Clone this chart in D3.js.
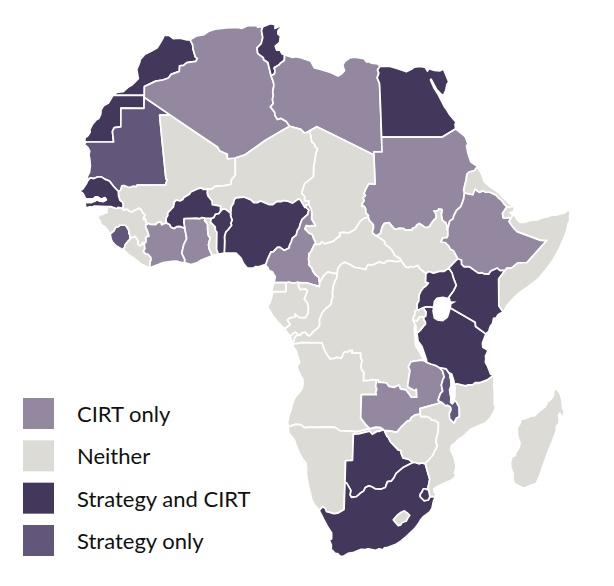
<!DOCTYPE html>
<html>
<head>
<meta charset="utf-8">
<script src="https://cdn.jsdelivr.net/npm/d3@7"></script>
<style>
  body { margin: 0; background: #fff; }
  text { font-family: Lato, sans-serif; }
</style>
</head>
<body>
<div id="chart"></div>
<script>
const categories = ["CIRT only", "Neither", "Strategy and CIRT", "Strategy only"];
const categoryColors = ["#93889f", "#dddbd5", "#43385b", "#62577a"];

// country outlines, [lon, lat]
const morocco = [[-5.19,35.76],[-4.59,35.33],[-3.64,35.4],[-2.6,35.18],[-2.17,35.17],[-1.79,34.53],[-1.73,33.92],[-1.39,32.86],[-1.12,32.65],[-1.31,32.26],[-2.62,32.09],[-3.07,31.72],[-3.65,31.64],[-3.69,30.9],[-4.86,30.5],[-5.24,30],[-6.06,29.73],[-7.06,29.58],[-8.67,28.84],[-8.67,27.66],[-13.12,27.66],[-12.62,28.04],[-11.69,28.15],[-10.9,28.83],[-10.4,29.1],[-9.56,29.93],[-9.81,31.18],[-9.43,32.04],[-9.3,32.56],[-8.66,33.24],[-7.65,33.7],[-6.91,34.11],[-6.24,35.15],[-5.93,35.76],[-5.19,35.76]];
const westernSahara = [[-8.67,27.66],[-8.68,27.4],[-8.69,25.88],[-11.97,25.93],[-11.94,23.37],[-12.87,23.28],[-13.12,22.77],[-12.93,21.33],[-16.85,21.33],[-17.06,21],[-17.02,21.42],[-16.97,21.89],[-16.59,22.16],[-16.26,22.68],[-16.33,23.02],[-15.98,23.72],[-15.43,24.36],[-15.09,24.52],[-14.82,25.1],[-14.8,25.64],[-14.44,26.25],[-13.77,26.62],[-13.14,27.64],[-13.12,27.66],[-8.67,27.66]];
const mauritania = [[-12.17,14.62],[-12.83,15.3],[-13.44,16.04],[-14.1,16.3],[-14.58,16.6],[-15.14,16.59],[-15.62,16.37],[-16.12,16.46],[-16.46,16.14],[-16.55,16.67],[-16.27,17.17],[-16.15,18.11],[-16.26,19.1],[-16.38,19.59],[-16.28,20.09],[-16.54,20.57],[-17.06,21],[-16.85,21.33],[-12.93,21.33],[-13.12,22.77],[-12.87,23.28],[-11.94,23.37],[-11.97,25.93],[-8.69,25.88],[-8.68,27.4],[-4.92,24.97],[-6.45,24.96],[-5.97,20.64],[-5.49,16.33],[-5.32,16.2],[-5.54,15.5],[-9.55,15.49],[-9.7,15.26],[-10.09,15.33],[-10.65,15.13],[-11.35,15.41],[-11.67,15.39],[-11.83,14.8],[-12.17,14.62]];
const mali = [[-12.17,14.62],[-11.83,14.8],[-11.67,15.39],[-11.35,15.41],[-10.65,15.13],[-10.09,15.33],[-9.7,15.26],[-9.55,15.49],[-5.54,15.5],[-5.32,16.2],[-5.49,16.33],[-5.97,20.64],[-6.45,24.96],[-4.92,24.97],[-1.55,22.79],[1.82,20.61],[2.06,20.14],[2.68,19.86],[3.15,19.69],[3.16,19.06],[4.27,19.16],[4.27,16.85],[3.72,16.18],[3.64,15.57],[2.75,15.41],[1.39,15.32],[1.02,14.97],[0.37,14.93],[-0.27,14.92],[-0.52,15.12],[-1.07,14.97],[-2,14.56],[-2.19,14.25],[-2.97,13.8],[-3.1,13.54],[-3.52,13.34],[-4.01,13.47],[-4.28,13.23],[-4.43,12.54],[-5.22,11.71],[-5.2,11.38],[-5.47,10.95],[-5.4,10.37],[-5.82,10.22],[-6.05,10.1],[-6.21,10.52],[-6.49,10.41],[-6.67,10.43],[-6.85,10.14],[-7.62,10.15],[-7.9,10.3],[-8.03,10.21],[-8.34,10.49],[-8.28,10.79],[-8.41,10.91],[-8.62,10.81],[-8.58,11.14],[-8.38,11.39],[-8.79,11.81],[-8.91,12.09],[-9.13,12.31],[-9.33,12.33],[-9.57,12.19],[-9.89,12.06],[-10.17,11.84],[-10.59,11.92],[-10.87,12.18],[-11.04,12.21],[-11.3,12.08],[-11.46,12.08],[-11.51,12.44],[-11.47,12.75],[-11.55,13.14],[-11.93,13.42],[-12.12,13.99],[-12.17,14.62]];
const algeria = [[12,23.47],[8.57,21.57],[5.68,19.6],[4.27,19.16],[3.16,19.06],[3.15,19.69],[2.68,19.86],[2.06,20.14],[1.82,20.61],[-1.55,22.79],[-4.92,24.97],[-8.68,27.4],[-8.67,27.66],[-8.67,28.84],[-7.06,29.58],[-6.06,29.73],[-5.24,30],[-4.86,30.5],[-3.69,30.9],[-3.65,31.64],[-3.07,31.72],[-2.62,32.09],[-1.31,32.26],[-1.12,32.65],[-1.39,32.86],[-1.73,33.92],[-1.79,34.53],[-2.17,35.17],[-1.21,35.71],[-0.13,35.89],[0.5,36.3],[1.47,36.61],[3.16,36.78],[4.82,36.87],[5.32,36.72],[6.26,37.11],[7.33,37.12],[7.74,36.89],[8.42,36.95],[8.22,36.43],[8.38,35.48],[8.14,34.66],[7.52,34.1],[7.61,33.34],[8.43,32.75],[8.44,32.51],[9.06,32.1],[9.48,30.31],[9.81,29.42],[9.86,28.96],[9.68,28.14],[9.76,27.69],[9.63,27.14],[9.72,26.51],[9.32,26.09],[9.91,25.37],[9.95,24.94],[10.3,24.38],[10.77,24.56],[11.56,24.1],[12,23.47]];
const tunisia = [[9.48,30.31],[9.06,32.1],[8.44,32.51],[8.43,32.75],[7.61,33.34],[7.52,34.1],[8.14,34.66],[8.38,35.48],[8.22,36.43],[8.42,36.95],[9.51,37.35],[10.21,37.23],[10.18,36.72],[11.03,37.09],[11.1,36.9],[10.6,36.41],[10.59,35.95],[10.94,35.7],[10.81,34.83],[10.15,34.33],[10.34,33.79],[10.86,33.77],[11.11,33.29],[11.49,33.14],[11.43,32.37],[10.94,32.08],[10.64,31.76],[9.95,31.38],[10.06,30.96],[9.97,30.54],[9.48,30.31]];
const libya = [[14.85,22.86],[14.14,22.49],[13.58,23.04],[12,23.47],[11.56,24.1],[10.77,24.56],[10.3,24.38],[9.95,24.94],[9.91,25.37],[9.32,26.09],[9.72,26.51],[9.63,27.14],[9.76,27.69],[9.68,28.14],[9.86,28.96],[9.81,29.42],[9.48,30.31],[9.97,30.54],[10.06,30.96],[9.95,31.38],[10.64,31.76],[10.94,32.08],[11.43,32.37],[11.49,33.14],[12.66,32.79],[13.08,32.88],[13.92,32.71],[15.25,32.27],[15.71,31.38],[16.61,31.18],[18.02,30.76],[19.09,30.27],[19.57,30.53],[20.05,30.99],[19.82,31.75],[20.13,32.24],[20.85,32.71],[21.54,32.84],[22.9,32.64],[23.24,32.19],[23.61,32.19],[23.93,32.02],[24.92,31.9],[25.16,31.57],[24.8,31.09],[24.96,30.66],[24.7,30.04],[25,29.24],[25,25.68],[25,22],[25,20],[23.85,20],[23.84,19.58],[19.85,21.5],[15.86,23.41],[14.85,22.86]];
const egypt = [[35.53,23.1],[33.6,22],[32.9,22],[29.02,22],[25,22],[25,25.68],[25,29.24],[24.7,30.04],[24.96,30.66],[24.8,31.09],[25.16,31.57],[26.5,31.59],[27.46,31.32],[28.45,31.03],[28.91,30.87],[29.68,31.19],[30.1,31.47],[30.98,31.56],[31.69,31.43],[31.96,30.93],[32.19,31.26],[32.99,31.02],[33.77,30.97],[34.27,31.22],[34.92,29.5],[34.64,29.1],[34.43,28.34],[34.15,27.82],[33.92,27.65],[33.59,27.97],[33.14,28.42],[32.42,29.85],[32.32,29.76],[32.73,28.71],[33.35,27.7],[34.1,26.14],[34.47,25.6],[34.8,25.03],[35.69,23.93],[35.49,23.75],[35.53,23.1]];
const sudan = [[33.96,9.46],[33.82,9.48],[33.84,9.98],[33.72,10.33],[33.21,10.72],[33.09,11.44],[33.21,12.18],[32.74,12.25],[32.67,12.02],[32.07,11.97],[32.31,11.68],[32.4,11.08],[31.85,10.53],[31.35,9.81],[30.84,9.71],[30,10.29],[29.62,10.08],[29.52,9.79],[29,9.6],[28.97,9.4],[27.97,9.4],[27.83,9.6],[27.11,9.64],[26.75,9.47],[26.48,9.55],[25.96,10.14],[25.79,10.41],[25.07,10.27],[24.79,9.81],[24.54,8.92],[24.19,8.73],[23.89,8.62],[23.81,8.67],[23.46,8.95],[23.39,9.27],[23.56,9.68],[23.55,10.09],[22.98,10.71],[22.86,11.14],[22.88,11.38],[22.51,11.68],[22.5,12.26],[22.29,12.65],[21.94,12.59],[22.04,12.96],[22.3,13.37],[22.18,13.79],[22.51,14.09],[22.3,14.33],[22.57,14.94],[23.02,15.68],[23.89,15.61],[23.84,19.58],[23.85,20],[25,20],[25,22],[29.02,22],[32.9,22],[33.6,22],[35.53,23.1],[36.69,22.2],[36.87,22],[37.19,21.02],[36.97,20.84],[37.11,19.81],[37.48,18.61],[37.86,18.37],[38.41,18],[37.9,17.43],[37.17,17.26],[36.85,16.96],[36.75,16.29],[36.32,14.82],[36.43,14.42],[36.27,13.56],[35.86,12.58],[35.26,12.08],[34.83,11.32],[34.73,10.91],[34.26,10.63],[33.96,9.58],[33.96,9.46]];
const southSudan = [[33.96,9.46],[33.97,8.68],[33.83,8.38],[33.29,8.35],[32.95,7.78],[33.57,7.71],[34.08,7.23],[34.25,6.83],[34.71,6.59],[35.3,5.51],[34.62,4.85],[34.01,4.25],[33.39,3.79],[32.69,3.79],[31.88,3.56],[31.25,3.78],[30.83,3.51],[29.95,4.17],[29.72,4.6],[29.16,4.39],[28.7,4.46],[28.43,4.29],[27.98,4.41],[27.37,5.23],[27.21,5.55],[26.47,5.95],[26.21,6.55],[25.8,6.98],[25.12,7.5],[25.11,7.83],[24.57,8.23],[23.89,8.62],[24.19,8.73],[24.54,8.92],[24.79,9.81],[25.07,10.27],[25.79,10.41],[25.96,10.14],[26.48,9.55],[26.75,9.47],[27.11,9.64],[27.83,9.6],[27.97,9.4],[28.97,9.4],[29,9.6],[29.52,9.79],[29.62,10.08],[30,10.29],[30.84,9.71],[31.35,9.81],[31.85,10.53],[32.4,11.08],[32.31,11.68],[32.07,11.97],[32.67,12.02],[32.74,12.25],[33.21,12.18],[33.09,11.44],[33.21,10.72],[33.72,10.33],[33.84,9.98],[33.82,9.48],[33.96,9.46]];
const chad = [[14.5,12.86],[14.6,13.33],[13.95,13.35],[13.96,14],[13.54,14.37],[13.97,15.68],[15.25,16.63],[15.3,17.93],[15.69,19.96],[15.9,20.39],[15.49,20.73],[15.47,21.05],[15.1,21.31],[14.85,22.86],[15.86,23.41],[19.85,21.5],[23.84,19.58],[23.89,15.61],[23.02,15.68],[22.57,14.94],[22.3,14.33],[22.51,14.09],[22.18,13.79],[22.3,13.37],[22.04,12.96],[21.94,12.59],[22.29,12.65],[22.5,12.26],[22.51,11.68],[22.88,11.38],[22.86,11.14],[22.23,10.97],[21.72,10.57],[21,9.48],[20.06,9.01],[19.09,9.07],[18.81,8.98],[18.91,8.63],[18.39,8.28],[17.96,7.89],[16.71,7.51],[16.46,7.73],[16.29,7.75],[16.11,7.5],[15.28,7.42],[15.44,7.69],[15.12,8.38],[14.98,8.8],[14.54,8.97],[13.95,9.55],[14.17,10.02],[14.63,9.92],[14.91,9.99],[15.47,9.98],[14.92,10.89],[14.96,11.56],[14.89,12.22],[14.5,12.86]];
const niger = [[2.15,11.94],[2.18,12.63],[1.02,12.85],[0.99,13.34],[0.43,13.99],[0.3,14.44],[0.37,14.93],[1.02,14.97],[1.39,15.32],[2.75,15.41],[3.64,15.57],[3.72,16.18],[4.27,16.85],[4.27,19.16],[5.68,19.6],[8.57,21.57],[12,23.47],[13.58,23.04],[14.14,22.49],[14.85,22.86],[15.1,21.31],[15.47,21.05],[15.49,20.73],[15.9,20.39],[15.69,19.96],[15.3,17.93],[15.25,16.63],[13.97,15.68],[13.54,14.37],[13.96,14],[13.95,13.35],[14.6,13.33],[14.5,12.86],[14.21,12.8],[14.18,12.48],[14,12.46],[13.32,13.56],[13.08,13.6],[12.3,13.04],[11.53,13.33],[10.99,13.39],[10.7,13.25],[10.11,13.28],[9.52,12.85],[9.01,12.83],[7.8,13.34],[7.33,13.1],[6.82,13.12],[6.45,13.49],[5.44,13.87],[4.37,13.75],[4.11,13.53],[3.97,12.96],[3.68,12.55],[3.61,11.66],[2.85,12.24],[2.49,12.23],[2.15,11.94]];
const nigeria = [[8.5,4.77],[7.46,4.41],[7.08,4.46],[6.7,4.24],[5.9,4.26],[5.36,4.89],[5.03,5.61],[4.33,6.27],[3.57,6.26],[2.69,6.26],[2.75,7.87],[2.72,8.51],[2.91,9.14],[3.22,9.44],[3.71,10.06],[3.6,10.33],[3.8,10.73],[3.57,11.33],[3.61,11.66],[3.68,12.55],[3.97,12.96],[4.11,13.53],[4.37,13.75],[5.44,13.87],[6.45,13.49],[6.82,13.12],[7.33,13.1],[7.8,13.34],[9.01,12.83],[9.52,12.85],[10.11,13.28],[10.7,13.25],[10.99,13.39],[11.53,13.33],[12.3,13.04],[13.08,13.6],[13.32,13.56],[14,12.46],[14.18,12.48],[14.58,12.09],[14.47,11.9],[14.42,11.57],[13.57,10.8],[13.31,10.16],[13.17,9.64],[12.96,9.42],[12.75,8.72],[12.22,8.31],[12.06,7.8],[11.84,7.4],[11.75,6.98],[11.06,6.64],[10.5,7.06],[10.12,7.04],[9.52,6.45],[9.23,6.44],[8.76,5.48],[8.5,4.77]];
const cameroon = [[14.5,12.86],[14.89,12.22],[14.96,11.56],[14.92,10.89],[15.47,9.98],[14.91,9.99],[14.63,9.92],[14.17,10.02],[13.95,9.55],[14.54,8.97],[14.98,8.8],[15.12,8.38],[15.44,7.69],[15.28,7.42],[14.78,6.41],[14.54,6.23],[14.46,5.45],[14.56,5.03],[14.48,4.73],[14.95,4.21],[15.04,3.85],[15.41,3.34],[15.86,3.01],[15.91,2.56],[16.01,2.27],[15.94,1.73],[15.15,1.96],[14.34,2.23],[13.08,2.27],[12.95,2.32],[12.36,2.19],[11.75,2.33],[11.28,2.26],[9.65,2.28],[9.8,3.07],[9.4,3.73],[8.95,3.9],[8.74,4.35],[8.49,4.5],[8.5,4.77],[8.76,5.48],[9.23,6.44],[9.52,6.45],[10.12,7.04],[10.5,7.06],[11.06,6.64],[11.75,6.98],[11.84,7.4],[12.06,7.8],[12.22,8.31],[12.75,8.72],[12.96,9.42],[13.17,9.64],[13.31,10.16],[13.57,10.8],[14.42,11.57],[14.47,11.9],[14.58,12.09],[14.18,12.48],[14.21,12.8],[14.5,12.86]];
const centralAfrica = [[27.37,5.23],[27.04,5.13],[26.4,5.15],[25.65,5.26],[25.28,5.17],[25.13,4.93],[24.81,4.9],[24.41,5.11],[23.3,4.61],[22.84,4.71],[22.7,4.63],[22.41,4.03],[21.66,4.22],[20.93,4.32],[20.29,4.69],[19.47,5.03],[18.93,4.71],[18.54,4.2],[18.45,3.5],[17.81,3.56],[17.13,3.73],[16.54,3.2],[16.01,2.27],[15.91,2.56],[15.86,3.01],[15.41,3.34],[15.04,3.85],[14.95,4.21],[14.48,4.73],[14.56,5.03],[14.46,5.45],[14.54,6.23],[14.78,6.41],[15.28,7.42],[16.11,7.5],[16.29,7.75],[16.46,7.73],[16.71,7.51],[17.96,7.89],[18.39,8.28],[18.91,8.63],[18.81,8.98],[19.09,9.07],[20.06,9.01],[21,9.48],[21.72,10.57],[22.23,10.97],[22.86,11.14],[22.98,10.71],[23.55,10.09],[23.56,9.68],[23.39,9.27],[23.46,8.95],[23.81,8.67],[23.89,8.62],[24.57,8.23],[25.11,7.83],[25.12,7.5],[25.8,6.98],[26.21,6.55],[26.47,5.95],[27.21,5.55],[27.37,5.23]];
const congo = [[13,-4.78],[12.62,-4.44],[12.32,-4.61],[11.91,-5.04],[11.09,-3.98],[11.86,-3.43],[11.48,-2.77],[11.82,-2.51],[12.5,-2.39],[12.58,-1.95],[13.11,-2.43],[13.99,-2.47],[14.3,-2],[14.43,-1.33],[14.32,-0.55],[13.84,0.04],[14.28,1.2],[14.03,1.4],[13.28,1.31],[13,1.83],[13.08,2.27],[14.34,2.23],[15.15,1.96],[15.94,1.73],[16.01,2.27],[16.54,3.2],[17.13,3.73],[17.81,3.56],[18.45,3.5],[18.39,2.9],[18.09,2.37],[17.9,1.74],[17.77,0.86],[17.83,0.29],[17.66,-0.06],[17.64,-0.42],[17.52,-0.74],[16.87,-1.23],[16.41,-1.74],[15.97,-2.71],[16.01,-3.54],[15.75,-3.86],[15.17,-4.34],[14.58,-4.97],[14.21,-4.79],[14.14,-4.51],[13.6,-4.5],[13.26,-4.88],[13,-4.78]];
const gabon = [[11.09,-3.98],[10.07,-2.97],[9.41,-2.14],[8.8,-1.11],[8.83,-0.78],[9.05,-0.46],[9.29,0.27],[9.49,1.01],[9.83,1.07],[11.29,1.06],[11.28,2.26],[11.75,2.33],[12.36,2.19],[12.95,2.32],[13.08,2.27],[13,1.83],[13.28,1.31],[14.03,1.4],[14.28,1.2],[13.84,0.04],[14.32,-0.55],[14.43,-1.33],[14.3,-2],[13.99,-2.47],[13.11,-2.43],[12.58,-1.95],[12.5,-2.39],[11.82,-2.51],[11.48,-2.77],[11.86,-3.43],[11.09,-3.98]];
const equatorialGuinea = [[9.49,1.01],[9.31,1.16],[9.65,2.28],[11.28,2.26],[11.29,1.06],[9.83,1.07],[9.49,1.01]];
const drCongo = [[30.83,3.51],[30.77,2.34],[31.17,2.2],[30.85,1.85],[30.47,1.58],[30.09,1.06],[29.88,0.6],[29.82,-0.21],[29.59,-0.59],[29.58,-1.34],[29.29,-1.62],[29.25,-2.22],[29.12,-2.29],[29.02,-2.84],[29.28,-3.29],[29.34,-4.5],[29.52,-5.42],[29.42,-5.94],[29.62,-6.52],[30.2,-7.08],[30.74,-8.34],[30.35,-8.24],[29,-8.41],[28.73,-8.53],[28.45,-9.16],[28.67,-9.61],[28.5,-10.79],[28.37,-11.79],[28.64,-11.97],[29.34,-12.36],[29.62,-12.18],[29.7,-13.26],[28.93,-13.25],[28.52,-12.7],[28.16,-12.27],[27.39,-12.13],[27.16,-11.61],[26.55,-11.92],[25.75,-11.78],[25.42,-11.33],[24.78,-11.24],[24.31,-11.26],[24.26,-10.95],[23.91,-10.93],[23.46,-10.87],[22.84,-11.02],[22.4,-10.99],[22.16,-11.08],[22.21,-9.89],[21.88,-9.52],[21.8,-8.91],[21.95,-8.31],[21.75,-7.92],[21.73,-7.29],[20.51,-7.3],[20.6,-6.94],[20.09,-6.94],[20.04,-7.12],[19.42,-7.16],[19.17,-7.74],[19.02,-7.99],[18.46,-7.85],[18.13,-7.99],[17.47,-8.07],[17.09,-7.55],[16.86,-7.22],[16.57,-6.62],[16.33,-5.88],[13.38,-5.86],[13.02,-5.98],[12.74,-5.97],[12.32,-6.1],[12.18,-5.79],[12.44,-5.68],[12.47,-5.25],[12.63,-4.99],[13,-4.78],[13.26,-4.88],[13.6,-4.5],[14.14,-4.51],[14.21,-4.79],[14.58,-4.97],[15.17,-4.34],[15.75,-3.86],[16.01,-3.54],[15.97,-2.71],[16.41,-1.74],[16.87,-1.23],[17.52,-0.74],[17.64,-0.42],[17.66,-0.06],[17.83,0.29],[17.77,0.86],[17.9,1.74],[18.09,2.37],[18.39,2.9],[18.45,3.5],[18.54,4.2],[18.93,4.71],[19.47,5.03],[20.29,4.69],[20.93,4.32],[21.66,4.22],[22.41,4.03],[22.7,4.63],[22.84,4.71],[23.3,4.61],[24.41,5.11],[24.81,4.9],[25.13,4.93],[25.28,5.17],[25.65,5.26],[26.4,5.15],[27.04,5.13],[27.37,5.23],[27.98,4.41],[28.43,4.29],[28.7,4.46],[29.16,4.39],[29.72,4.6],[29.95,4.17],[30.83,3.51]];
const angola = [[16.33,-5.88],[16.57,-6.62],[16.86,-7.22],[17.09,-7.55],[17.47,-8.07],[18.13,-7.99],[18.46,-7.85],[19.02,-7.99],[19.17,-7.74],[19.42,-7.16],[20.04,-7.12],[20.09,-6.94],[20.6,-6.94],[20.51,-7.3],[21.73,-7.29],[21.75,-7.92],[21.95,-8.31],[21.8,-8.91],[21.88,-9.52],[22.21,-9.89],[22.16,-11.08],[22.4,-10.99],[22.84,-11.02],[23.46,-10.87],[23.91,-10.93],[24.02,-11.24],[23.9,-11.72],[24.08,-12.19],[23.93,-12.57],[24.02,-12.91],[21.93,-12.9],[21.89,-16.08],[22.56,-16.9],[23.22,-17.52],[21.38,-17.93],[18.96,-17.79],[18.26,-17.31],[14.21,-17.35],[14.06,-17.42],[13.46,-16.97],[12.81,-16.94],[12.22,-17.11],[11.73,-17.3],[11.64,-16.67],[11.78,-15.79],[12.12,-14.88],[12.18,-14.45],[12.5,-13.55],[12.74,-13.14],[13.31,-12.48],[13.63,-12.04],[13.74,-11.3],[13.69,-10.73],[13.39,-10.37],[13.12,-9.77],[12.88,-9.17],[12.93,-8.96],[13.24,-8.56],[12.93,-7.6],[12.73,-6.93],[12.23,-6.29],[12.32,-6.1],[12.74,-5.97],[13.02,-5.98],[13.38,-5.86],[16.33,-5.88]];
const cabinda = [[12.44,-5.68],[12.18,-5.79],[11.91,-5.04],[12.32,-4.61],[12.62,-4.44],[13,-4.78],[12.63,-4.99],[12.47,-5.25],[12.44,-5.68]];
const namibia = [[16.34,-28.58],[15.6,-27.82],[15.21,-27.09],[14.99,-26.12],[14.74,-25.39],[14.41,-23.85],[14.39,-22.66],[14.26,-22.11],[13.87,-21.7],[13.35,-20.87],[12.83,-19.67],[12.61,-19.05],[11.79,-18.07],[11.73,-17.3],[12.22,-17.11],[12.81,-16.94],[13.46,-16.97],[14.06,-17.42],[14.21,-17.35],[18.26,-17.31],[18.96,-17.79],[21.38,-17.93],[23.22,-17.52],[24.03,-17.3],[24.68,-17.35],[25.08,-17.58],[25.08,-17.66],[24.52,-17.89],[24.22,-17.89],[23.58,-18.28],[23.2,-17.87],[21.66,-18.22],[20.91,-18.25],[20.88,-21.81],[19.9,-21.85],[19.9,-24.77],[19.89,-28.46],[19,-28.97],[18.46,-29.05],[17.84,-28.86],[17.39,-28.78],[17.22,-28.36],[16.82,-28.08],[16.34,-28.58]];
const botswana = [[25.65,-18.54],[25.85,-18.71],[26.16,-19.29],[27.3,-20.39],[27.72,-20.5],[27.73,-20.85],[28.02,-21.49],[28.79,-21.64],[29.43,-22.09],[28.02,-22.83],[27.12,-23.57],[26.79,-24.24],[26.49,-24.62],[25.94,-24.7],[25.77,-25.17],[25.66,-25.49],[25.03,-25.72],[24.21,-25.67],[23.73,-25.39],[23.31,-25.27],[22.82,-25.5],[22.58,-25.98],[22.11,-26.28],[21.61,-26.73],[20.89,-26.83],[20.67,-26.48],[20.76,-25.87],[20.17,-24.92],[19.9,-24.77],[19.9,-21.85],[20.88,-21.81],[20.91,-18.25],[21.66,-18.22],[23.2,-17.87],[23.58,-18.28],[24.22,-17.89],[24.52,-17.89],[25.08,-17.66],[25.26,-17.74],[25.65,-18.54]];
const southAfrica = [[31.52,-29.26],[31.33,-29.4],[30.9,-29.91],[30.62,-30.42],[30.06,-31.14],[28.93,-32.17],[28.22,-32.77],[27.46,-33.23],[26.42,-33.61],[25.91,-33.67],[25.78,-33.94],[25.17,-33.8],[24.68,-33.99],[23.59,-33.79],[22.99,-33.92],[22.57,-33.86],[21.54,-34.26],[20.69,-34.42],[20.07,-34.8],[19.62,-34.82],[19.19,-34.46],[18.86,-34.44],[18.42,-34],[18.38,-34.14],[18.24,-33.87],[18.25,-33.28],[17.93,-32.61],[18.25,-32.43],[18.22,-31.66],[17.57,-30.73],[17.06,-29.88],[16.34,-28.58],[16.82,-28.08],[17.22,-28.36],[17.39,-28.78],[17.84,-28.86],[18.46,-29.05],[19,-28.97],[19.89,-28.46],[19.9,-24.77],[20.17,-24.92],[20.76,-25.87],[20.67,-26.48],[20.89,-26.83],[21.61,-26.73],[22.11,-26.28],[22.58,-25.98],[22.82,-25.5],[23.31,-25.27],[23.73,-25.39],[24.21,-25.67],[25.03,-25.72],[25.66,-25.49],[25.77,-25.17],[25.94,-24.7],[26.49,-24.62],[26.79,-24.24],[27.12,-23.57],[28.02,-22.83],[29.43,-22.09],[29.84,-22.1],[30.32,-22.27],[30.66,-22.15],[31.19,-22.25],[31.67,-23.66],[31.93,-24.37],[31.75,-25.48],[31.84,-25.84],[31.33,-25.66],[31.04,-25.73],[30.95,-26.02],[30.68,-26.4],[30.69,-26.74],[31.28,-27.29],[31.87,-27.18],[32.07,-26.73],[32.83,-26.74],[32.58,-27.47],[32.46,-28.3],[32.2,-28.75],[31.52,-29.26]];
const lesotho = [[28.98,-28.96],[29.33,-29.26],[29.02,-29.74],[28.85,-30.07],[28.29,-30.23],[28.11,-30.55],[27.75,-30.65],[27,-29.88],[27.53,-29.24],[28.07,-28.85],[28.54,-28.65],[28.98,-28.96]];
const eswatini = [[32.07,-26.73],[31.87,-27.18],[31.28,-27.29],[30.69,-26.74],[30.68,-26.4],[30.95,-26.02],[31.04,-25.73],[31.33,-25.66],[31.84,-25.84],[31.99,-26.29],[32.07,-26.73]];
const zimbabwe = [[31.19,-22.25],[30.66,-22.15],[30.32,-22.27],[29.84,-22.1],[29.43,-22.09],[28.79,-21.64],[28.02,-21.49],[27.73,-20.85],[27.72,-20.5],[27.3,-20.39],[26.16,-19.29],[25.85,-18.71],[25.65,-18.54],[25.26,-17.74],[26.38,-17.85],[26.71,-17.96],[27.04,-17.94],[27.6,-17.29],[28.47,-16.47],[28.83,-16.39],[28.95,-16.04],[29.52,-15.64],[30.27,-15.51],[30.34,-15.88],[31.17,-15.86],[31.64,-16.07],[31.85,-16.32],[32.33,-16.39],[32.85,-16.71],[32.85,-17.98],[32.65,-18.67],[32.61,-19.42],[32.77,-19.72],[32.66,-20.3],[32.51,-20.4],[32.24,-21.12],[31.19,-22.25]];
const zambia = [[32.76,-9.23],[33.23,-9.68],[33.49,-10.53],[33.32,-10.8],[33.11,-11.61],[33.31,-12.44],[32.99,-12.78],[32.69,-13.71],[33.21,-13.97],[30.18,-14.8],[30.27,-15.51],[29.52,-15.64],[28.95,-16.04],[28.83,-16.39],[28.47,-16.47],[27.6,-17.29],[27.04,-17.94],[26.71,-17.96],[26.38,-17.85],[25.26,-17.74],[25.08,-17.66],[25.08,-17.58],[24.68,-17.35],[24.03,-17.3],[23.22,-17.52],[22.56,-16.9],[21.89,-16.08],[21.93,-12.9],[24.02,-12.91],[23.93,-12.57],[24.08,-12.19],[23.9,-11.72],[24.02,-11.24],[23.91,-10.93],[24.26,-10.95],[24.31,-11.26],[24.78,-11.24],[25.42,-11.33],[25.75,-11.78],[26.55,-11.92],[27.16,-11.61],[27.39,-12.13],[28.16,-12.27],[28.52,-12.7],[28.93,-13.25],[29.7,-13.26],[29.62,-12.18],[29.34,-12.36],[28.64,-11.97],[28.37,-11.79],[28.5,-10.79],[28.67,-9.61],[28.45,-9.16],[28.73,-8.53],[29,-8.41],[30.35,-8.24],[30.74,-8.34],[31.16,-8.59],[31.56,-8.76],[32.19,-8.93],[32.76,-9.23]];
const malawi = [[34.56,-11.52],[34.28,-12.28],[34.56,-13.58],[34.91,-13.57],[35.27,-13.89],[35.69,-14.61],[35.77,-15.9],[35.34,-16.11],[35.03,-16.8],[34.38,-16.18],[34.31,-15.48],[34.52,-15.01],[34.46,-14.61],[34.06,-14.36],[33.79,-14.45],[33.21,-13.97],[32.69,-13.71],[32.99,-12.78],[33.31,-12.44],[33.11,-11.61],[33.32,-10.8],[33.49,-10.53],[33.23,-9.68],[32.76,-9.23],[33.74,-9.42],[33.94,-9.69],[34.28,-10.16],[34.56,-11.52]];
const mozambique = [[34.56,-11.52],[35.31,-11.44],[36.51,-11.72],[36.78,-11.59],[37.47,-11.57],[37.83,-11.27],[38.43,-11.29],[39.52,-10.9],[40.32,-10.32],[40.48,-10.77],[40.44,-11.76],[40.56,-12.64],[40.6,-14.2],[40.78,-14.69],[40.48,-15.41],[40.09,-16.1],[39.45,-16.72],[38.54,-17.1],[37.41,-17.59],[36.28,-18.66],[35.9,-18.84],[35.2,-19.55],[34.79,-19.78],[34.7,-20.5],[35.18,-21.25],[35.37,-21.84],[35.39,-22.14],[35.56,-22.09],[35.53,-23.07],[35.37,-23.54],[35.61,-23.71],[35.46,-24.12],[35.04,-24.48],[34.22,-24.82],[33.01,-25.36],[32.57,-25.73],[32.66,-26.15],[32.92,-26.22],[32.83,-26.74],[32.07,-26.73],[31.99,-26.29],[31.84,-25.84],[31.75,-25.48],[31.93,-24.37],[31.67,-23.66],[31.19,-22.25],[32.24,-21.12],[32.51,-20.4],[32.66,-20.3],[32.77,-19.72],[32.61,-19.42],[32.65,-18.67],[32.85,-17.98],[32.85,-16.71],[32.33,-16.39],[31.85,-16.32],[31.64,-16.07],[31.17,-15.86],[30.34,-15.88],[30.27,-15.51],[30.18,-14.8],[33.21,-13.97],[33.79,-14.45],[34.06,-14.36],[34.46,-14.61],[34.52,-15.01],[34.31,-15.48],[34.38,-16.18],[35.03,-16.8],[35.34,-16.11],[35.77,-15.9],[35.69,-14.61],[35.27,-13.89],[34.91,-13.57],[34.56,-13.58],[34.28,-12.28],[34.56,-11.52]];
const tanzania = [[33.9,-0.95],[34.07,-1.06],[37.7,-3.1],[37.77,-3.68],[39.2,-4.68],[38.74,-5.91],[38.8,-6.48],[39.44,-6.84],[39.47,-7.1],[39.19,-7.7],[39.25,-8.01],[39.19,-8.49],[39.54,-9.11],[39.95,-10.1],[40.32,-10.32],[39.52,-10.9],[38.43,-11.29],[37.83,-11.27],[37.47,-11.57],[36.78,-11.59],[36.51,-11.72],[35.31,-11.44],[34.56,-11.52],[34.28,-10.16],[33.94,-9.69],[33.74,-9.42],[32.76,-9.23],[32.19,-8.93],[31.56,-8.76],[31.16,-8.59],[30.74,-8.34],[30.2,-7.08],[29.62,-6.52],[29.42,-5.94],[29.52,-5.42],[29.34,-4.5],[29.75,-4.45],[30.12,-4.09],[30.51,-3.57],[30.75,-3.36],[30.74,-3.03],[30.53,-2.81],[30.47,-2.41],[30.76,-2.29],[30.82,-1.7],[30.42,-1.13],[30.77,-1.01],[31.87,-1.03],[33.9,-0.95]];
const kenya = [[40.99,-0.86],[41.59,-1.68],[40.88,-2.08],[40.64,-2.5],[40.26,-2.57],[40.12,-3.28],[39.8,-3.68],[39.6,-4.35],[39.2,-4.68],[37.77,-3.68],[37.7,-3.1],[34.07,-1.06],[33.9,-0.95],[33.89,0.11],[34.18,0.52],[34.67,1.18],[35.04,1.91],[34.6,3.05],[34.48,3.56],[34.01,4.25],[34.62,4.85],[35.3,5.51],[35.82,5.34],[35.82,4.78],[36.16,4.45],[36.86,4.45],[38.12,3.6],[38.44,3.59],[38.67,3.62],[38.89,3.5],[39.56,3.42],[39.85,3.84],[40.77,4.26],[41.17,3.92],[41.86,3.92],[40.98,2.78],[40.99,-0.86]];
const uganda = [[31.87,-1.03],[30.77,-1.01],[30.42,-1.13],[29.82,-1.44],[29.58,-1.34],[29.59,-0.59],[29.82,-0.21],[29.88,0.6],[30.09,1.06],[30.47,1.58],[30.85,1.85],[31.17,2.2],[30.77,2.34],[30.83,3.51],[31.25,3.78],[31.88,3.56],[32.69,3.79],[33.39,3.79],[34.01,4.25],[34.48,3.56],[34.6,3.05],[35.04,1.91],[34.67,1.18],[34.18,0.52],[33.89,0.11],[33.9,-0.95],[31.87,-1.03]];
const rwanda = [[30.42,-1.13],[30.82,-1.7],[30.76,-2.29],[30.47,-2.41],[29.94,-2.35],[29.63,-2.92],[29.02,-2.84],[29.12,-2.29],[29.25,-2.22],[29.29,-1.62],[29.58,-1.34],[29.82,-1.44],[30.42,-1.13]];
const burundi = [[30.47,-2.41],[30.53,-2.81],[30.74,-3.03],[30.75,-3.36],[30.51,-3.57],[30.12,-4.09],[29.75,-4.45],[29.34,-4.5],[29.28,-3.29],[29.02,-2.84],[29.63,-2.92],[29.94,-2.35],[30.47,-2.41]];
const ethiopia = [[47.79,8],[44.96,5],[43.66,4.96],[42.77,4.25],[42.13,4.23],[41.86,3.92],[41.17,3.92],[40.77,4.26],[39.85,3.84],[39.56,3.42],[38.89,3.5],[38.67,3.62],[38.44,3.59],[38.12,3.6],[36.86,4.45],[36.16,4.45],[35.82,4.78],[35.82,5.34],[35.3,5.51],[34.71,6.59],[34.25,6.83],[34.08,7.23],[33.57,7.71],[32.95,7.78],[33.29,8.35],[33.83,8.38],[33.97,8.68],[33.96,9.58],[34.26,10.63],[34.73,10.91],[34.83,11.32],[35.26,12.08],[35.86,12.58],[36.27,13.56],[36.43,14.42],[37.59,14.21],[37.91,14.96],[38.51,14.51],[39.1,14.74],[39.34,14.53],[40.03,14.52],[40.9,14.12],[41.16,13.77],[41.6,13.45],[42.01,12.87],[42.35,12.54],[42,12.1],[41.66,11.63],[41.74,11.36],[41.76,11.05],[42.31,11.03],[42.55,11.11],[42.78,10.93],[42.56,10.57],[42.93,10.02],[43.3,9.54],[43.68,9.18],[46.95,8],[47.79,8]];
const eritrea = [[42.35,12.54],[42.01,12.87],[41.6,13.45],[41.16,13.77],[40.9,14.12],[40.03,14.52],[39.34,14.53],[39.1,14.74],[38.51,14.51],[37.91,14.96],[37.59,14.21],[36.43,14.42],[36.32,14.82],[36.75,16.29],[36.85,16.96],[37.17,17.26],[37.9,17.43],[38.41,18],[38.99,16.84],[39.27,15.92],[39.81,15.44],[41.18,14.49],[41.73,13.92],[42.28,13.34],[42.59,13],[43.08,12.7],[42.78,12.46],[42.35,12.54]];
const djibouti = [[43.08,12.7],[43.32,12.39],[43.29,11.97],[42.72,11.74],[43.15,11.46],[42.78,10.93],[42.55,11.11],[42.31,11.03],[41.76,11.05],[41.74,11.36],[41.66,11.63],[42,12.1],[42.35,12.54],[42.78,12.46],[43.08,12.7]];
const somalia = [[41.59,-1.68],[40.99,-0.86],[40.98,2.78],[41.86,3.92],[42.13,4.23],[42.77,4.25],[43.66,4.96],[44.96,5],[47.79,8],[46.95,8],[43.68,9.18],[43.3,9.54],[42.93,10.02],[42.56,10.57],[42.78,10.93],[43.15,11.46],[43.47,11.28],[43.67,10.86],[44.12,10.45],[44.61,10.44],[45.56,10.7],[46.65,10.82],[47.53,11.13],[48.02,11.19],[48.38,11.38],[48.95,11.41],[49.27,11.43],[49.73,11.58],[50.26,11.68],[50.73,12.02],[51.11,12.02],[51.13,11.75],[51.04,11.17],[51.05,10.64],[50.83,10.28],[50.55,9.2],[50.07,8.08],[49.45,6.8],[48.59,5.34],[47.74,4.22],[46.56,2.86],[45.56,2.05],[44.07,1.05],[43.14,0.29],[42.04,-0.92],[41.81,-1.45],[41.59,-1.68]];
const sierraLeone = [[-11.44,6.79],[-11.71,6.86],[-12.43,7.26],[-12.95,7.8],[-13.12,8.16],[-13.25,8.9],[-12.71,9.34],[-12.6,9.62],[-12.43,9.84],[-12.15,9.86],[-11.92,10.05],[-11.12,10.05],[-10.84,9.69],[-10.62,9.27],[-10.65,8.98],[-10.49,8.72],[-10.51,8.35],[-10.23,8.41],[-10.7,7.94],[-11.15,7.4],[-11.2,7.11],[-11.44,6.79]];
const liberia = [[-7.71,4.36],[-7.97,4.36],[-9,4.83],[-9.91,5.59],[-10.77,6.14],[-11.44,6.79],[-11.2,7.11],[-11.15,7.4],[-10.7,7.94],[-10.23,8.41],[-10.02,8.43],[-9.76,8.54],[-9.34,7.93],[-9.4,7.53],[-9.21,7.31],[-8.93,7.31],[-8.72,7.71],[-8.44,7.69],[-8.49,7.4],[-8.39,6.91],[-8.6,6.47],[-8.31,6.19],[-7.99,6.13],[-7.57,5.71],[-7.54,5.31],[-7.64,5.19],[-7.71,4.36]];
const guinea = [[-8.44,7.69],[-8.72,7.71],[-8.93,7.31],[-9.21,7.31],[-9.4,7.53],[-9.34,7.93],[-9.76,8.54],[-10.02,8.43],[-10.23,8.41],[-10.51,8.35],[-10.49,8.72],[-10.65,8.98],[-10.62,9.27],[-10.84,9.69],[-11.12,10.05],[-11.92,10.05],[-12.15,9.86],[-12.43,9.84],[-12.6,9.62],[-12.71,9.34],[-13.25,8.9],[-13.69,9.49],[-14.07,9.89],[-14.33,10.02],[-14.58,10.21],[-14.69,10.66],[-14.84,10.88],[-15.13,11.04],[-14.69,11.53],[-14.38,11.51],[-14.12,11.68],[-13.9,11.68],[-13.74,11.81],[-13.83,12.14],[-13.72,12.25],[-13.7,12.59],[-13.22,12.58],[-12.5,12.33],[-12.28,12.35],[-12.2,12.47],[-11.66,12.39],[-11.51,12.44],[-11.46,12.08],[-11.3,12.08],[-11.04,12.21],[-10.87,12.18],[-10.59,11.92],[-10.17,11.84],[-9.89,12.06],[-9.57,12.19],[-9.33,12.33],[-9.13,12.31],[-8.91,12.09],[-8.79,11.81],[-8.38,11.39],[-8.58,11.14],[-8.62,10.81],[-8.41,10.91],[-8.28,10.79],[-8.34,10.49],[-8.03,10.21],[-8.23,10.13],[-8.31,9.79],[-8.08,9.38],[-7.83,8.58],[-8.2,8.46],[-8.3,8.32],[-8.22,8.12],[-8.28,7.69],[-8.44,7.69]];
const guineaBissau = [[-15.13,11.04],[-15.66,11.46],[-16.09,11.52],[-16.31,11.81],[-16.31,11.96],[-16.61,12.17],[-15.82,12.52],[-15.55,12.63],[-13.7,12.59],[-13.72,12.25],[-13.83,12.14],[-13.74,11.81],[-13.9,11.68],[-14.12,11.68],[-14.38,11.51],[-14.69,11.53],[-15.13,11.04]];
const senegal = [[-16.71,13.59],[-17.13,14.37],[-17.63,14.73],[-17.19,14.92],[-16.7,15.62],[-16.46,16.14],[-16.12,16.46],[-15.62,16.37],[-15.14,16.59],[-14.58,16.6],[-14.1,16.3],[-13.44,16.04],[-12.83,15.3],[-12.17,14.62],[-12.12,13.99],[-11.93,13.42],[-11.55,13.14],[-11.47,12.75],[-11.51,12.44],[-11.66,12.39],[-12.2,12.47],[-12.28,12.35],[-12.5,12.33],[-13.22,12.58],[-13.7,12.59],[-15.55,12.63],[-15.82,12.52],[-16.15,12.55],[-16.68,12.38],[-16.84,13.15],[-15.93,13.13],[-15.69,13.27],[-15.51,13.28],[-15.14,13.51],[-14.71,13.3],[-14.28,13.28],[-13.84,13.51],[-14.05,13.79],[-14.38,13.63],[-14.69,13.63],[-15.08,13.88],[-15.4,13.86],[-15.62,13.62],[-16.71,13.59]];
const gambia = [[-16.84,13.15],[-16.71,13.59],[-15.62,13.62],[-15.4,13.86],[-15.08,13.88],[-14.69,13.63],[-14.38,13.63],[-14.05,13.79],[-13.84,13.51],[-14.28,13.28],[-14.71,13.3],[-15.14,13.51],[-15.51,13.28],[-15.69,13.27],[-15.93,13.13],[-16.84,13.15]];
const coteDivoire = [[-2.86,4.99],[-3.31,4.98],[-4.01,5.18],[-4.65,5.17],[-5.83,4.99],[-6.53,4.71],[-7.52,4.34],[-7.71,4.36],[-7.64,5.19],[-7.54,5.31],[-7.57,5.71],[-7.99,6.13],[-8.31,6.19],[-8.6,6.47],[-8.39,6.91],[-8.49,7.4],[-8.44,7.69],[-8.28,7.69],[-8.22,8.12],[-8.3,8.32],[-8.2,8.46],[-7.83,8.58],[-8.08,9.38],[-8.31,9.79],[-8.23,10.13],[-8.03,10.21],[-7.9,10.3],[-7.62,10.15],[-6.85,10.14],[-6.67,10.43],[-6.49,10.41],[-6.21,10.52],[-6.05,10.1],[-5.82,10.22],[-5.4,10.37],[-4.95,10.15],[-4.78,9.82],[-4.33,9.61],[-3.98,9.86],[-3.51,9.9],[-2.83,9.64],[-2.56,8.22],[-2.98,7.38],[-3.24,6.25],[-2.81,5.39],[-2.86,4.99]];
const ghana = [[1.06,5.93],[-0.51,5.34],[-1.06,5],[-1.96,4.71],[-2.86,4.99],[-2.81,5.39],[-3.24,6.25],[-2.98,7.38],[-2.56,8.22],[-2.83,9.64],[-2.96,10.4],[-2.94,10.96],[-1.2,11.01],[-0.76,10.94],[-0.44,11.1],[0.02,11.02],[-0.05,10.71],[0.37,10.19],[0.37,9.47],[0.46,8.68],[0.71,8.31],[0.49,7.41],[0.57,6.91],[0.84,6.28],[1.06,5.93]];
const togo = [[1.87,6.14],[1.06,5.93],[0.84,6.28],[0.57,6.91],[0.49,7.41],[0.71,8.31],[0.46,8.68],[0.37,9.47],[0.37,10.19],[-0.05,10.71],[0.02,11.02],[0.9,11],[0.77,10.47],[1.08,10.18],[1.43,9.83],[1.46,9.33],[1.66,9.13],[1.62,6.83],[1.87,6.14]];
const benin = [[2.69,6.26],[1.87,6.14],[1.62,6.83],[1.66,9.13],[1.46,9.33],[1.43,9.83],[1.08,10.18],[0.77,10.47],[0.9,11],[1.24,11.11],[1.45,11.55],[1.94,11.64],[2.15,11.94],[2.49,12.23],[2.85,12.24],[3.61,11.66],[3.57,11.33],[3.8,10.73],[3.6,10.33],[3.71,10.06],[3.22,9.44],[2.91,9.14],[2.72,8.51],[2.75,7.87],[2.69,6.26]];
const burkinaFaso = [[-2.83,9.64],[-3.51,9.9],[-3.98,9.86],[-4.33,9.61],[-4.78,9.82],[-4.95,10.15],[-5.4,10.37],[-5.47,10.95],[-5.2,11.38],[-5.22,11.71],[-4.43,12.54],[-4.28,13.23],[-4.01,13.47],[-3.52,13.34],[-3.1,13.54],[-2.97,13.8],[-2.19,14.25],[-2,14.56],[-1.07,14.97],[-0.52,15.12],[-0.27,14.92],[0.37,14.93],[0.3,14.44],[0.43,13.99],[0.99,13.34],[1.02,12.85],[2.18,12.63],[2.15,11.94],[1.94,11.64],[1.45,11.55],[1.24,11.11],[0.9,11],[0.02,11.02],[-0.44,11.1],[-0.76,10.94],[-1.2,11.01],[-2.94,10.96],[-2.96,10.4],[-2.83,9.64]];
const madagascar = [[49.54,-12.47],[49.81,-12.9],[50.06,-13.56],[50.22,-14.76],[50.48,-15.23],[50.38,-15.71],[50.2,-16],[49.86,-15.41],[49.67,-15.71],[49.86,-16.45],[49.77,-16.88],[49.5,-17.11],[49.44,-17.95],[49.04,-19.12],[48.55,-20.5],[47.93,-22.39],[47.55,-23.78],[47.1,-24.94],[46.28,-25.18],[45.41,-25.6],[44.83,-25.35],[44.04,-24.99],[43.76,-24.46],[43.7,-23.57],[43.35,-22.78],[43.25,-22.06],[43.43,-21.34],[43.89,-21.16],[43.9,-20.83],[44.37,-20.07],[44.46,-19.44],[44.23,-18.96],[44.04,-18.33],[43.96,-17.41],[44.31,-16.85],[44.45,-16.22],[44.94,-16.18],[45.5,-15.97],[45.87,-15.79],[46.31,-15.78],[46.88,-15.21],[47.71,-14.59],[48.01,-14.09],[47.87,-13.66],[48.29,-13.78],[48.85,-13.09],[48.86,-12.49],[49.19,-12.04],[49.54,-12.47]];

// lakes stay white on top of the countries
const lakeVictoria = [[31.9,-0.2],[32.3,0.25],[33.2,0.4],[34.2,0.15],[34.3,-0.25],[35.1,-0.3],[34.4,-0.65],[34.3,-1.2],[34.1,-1.9],[33.9,-2.5],[33.2,-3],[32.4,-2.9],[31.9,-2.6],[31.7,-1.6],[31.9,-0.2]];
const lakeTanganyika = [[29.15,-3.3],[29.5,-3.4],[29.7,-4.5],[29.85,-5.6],[30.4,-6.3],[31.1,-8.2],[31,-8.7],[30.5,-8.35],[29.9,-7.2],[29.3,-6.3],[29.2,-5.2],[29.1,-4.2],[29.15,-3.3]];
const lakeMalawi = [[34.05,-9.8],[34.6,-10],[34.95,-11],[35.15,-12],[35.15,-13.2],[35,-14],[34.7,-14.3],[34.35,-14],[34.4,-13],[34.4,-12],[34.3,-11],[34.05,-9.8]];

const countries = [
  ["Morocco", "Strategy and CIRT", morocco], ["Western Sahara", "Strategy and CIRT", westernSahara],
  ["Mauritania", "Strategy only", mauritania], ["Mali", "Neither", mali], ["Algeria", "CIRT only", algeria],
  ["Tunisia", "Strategy and CIRT", tunisia], ["Libya", "CIRT only", libya], ["Egypt", "Strategy and CIRT", egypt],
  ["Sudan", "CIRT only", sudan], ["South Sudan", "Neither", southSudan], ["Chad", "Neither", chad],
  ["Niger", "Neither", niger], ["Nigeria", "Strategy and CIRT", nigeria], ["Cameroon", "CIRT only", cameroon],
  ["Central African Republic", "Neither", centralAfrica], ["Congo", "Neither", congo], ["Gabon", "Neither", gabon],
  ["Equatorial Guinea", "Neither", equatorialGuinea], ["DR Congo", "Neither", drCongo], ["Angola", "Neither", angola],
  ["Cabinda", "Neither", cabinda], ["Namibia", "Neither", namibia], ["Botswana", "Strategy and CIRT", botswana],
  ["South Africa", "Strategy and CIRT", southAfrica], ["Lesotho", "Neither", lesotho], ["Eswatini", "Strategy and CIRT", eswatini],
  ["Zimbabwe", "Neither", zimbabwe], ["Zambia", "CIRT only", zambia], ["Malawi", "Strategy only", malawi],
  ["Mozambique", "Neither", mozambique], ["Tanzania", "Strategy and CIRT", tanzania], ["Kenya", "Strategy and CIRT", kenya],
  ["Uganda", "Strategy and CIRT", uganda], ["Rwanda", "Neither", rwanda], ["Burundi", "Neither", burundi],
  ["Ethiopia", "CIRT only", ethiopia], ["Eritrea", "Neither", eritrea], ["Djibouti", "Neither", djibouti],
  ["Somalia", "Neither", somalia], ["Sierra Leone", "Strategy only", sierraLeone], ["Liberia", "Neither", liberia],
  ["Guinea", "Neither", guinea], ["Guinea-Bissau", "No data", guineaBissau], ["Senegal", "Strategy and CIRT", senegal],
  ["Gambia", "No data", gambia], ["Cote d'Ivoire", "CIRT only", coteDivoire], ["Ghana", "CIRT only", ghana],
  ["Togo", "Neither", togo], ["Benin", "Strategy and CIRT", benin], ["Burkina Faso", "Strategy and CIRT", burkinaFaso],
  ["Madagascar", "Neither", madagascar]
];
const lakes = [lakeVictoria, lakeTanganyika, lakeMalawi];

const width = 614;
const height = 586;

const svg = d3.select("#chart").append("svg")
  .attr("width", width)
  .attr("height", height);

// anything outside the legend stays white
const color = d3.scaleOrdinal().domain(categories).range(categoryColors).unknown("#fff");

// meridians lean in a little away from the equator
const raw = (lambda, phi) => [lambda * 0.9715 * (1 - 0.1 * phi * phi), phi];
const projection = d3.geoProjection(raw)
  .scale(422.8)
  .translate([205, 299.4])
  .precision(0);
const path = d3.geoPath(projection);

// d3 wants small polygons wound clockwise
function toFeature(ring) {
  const f = { type: "Polygon", coordinates: [ring] };
  if (d3.geoArea(f) > 2 * Math.PI) f.coordinates = [ring.slice().reverse()];
  return f;
}

svg.append("g").selectAll("path")
  .data(countries)
  .join("path")
  .attr("d", d => path(toFeature(d[2])))
  .attr("fill", d => color(d[1]))
  .attr("stroke", "#fff")
  .attr("stroke-width", 1.7)
  .attr("stroke-linejoin", "round");

svg.append("g").selectAll("path")
  .data(lakes)
  .join("path")
  .attr("d", d => path(toFeature(d)))
  .attr("fill", "#fff");

const legendY = d3.scalePoint().domain(categories).range([398, 525]);

const legend = svg.append("g").selectAll("g")
  .data(categories)
  .join("g")
  .attr("transform", d => `translate(23,${legendY(d)})`);

legend.append("rect")
  .attr("width", 31)
  .attr("height", 31)
  .attr("fill", d => color(d));

legend.append("text")
  .attr("x", 54)
  .attr("y", 24)
  .attr("font-size", 22)
  .attr("fill", "#111")
  .text(d => d);
</script>
</body>
</html>
